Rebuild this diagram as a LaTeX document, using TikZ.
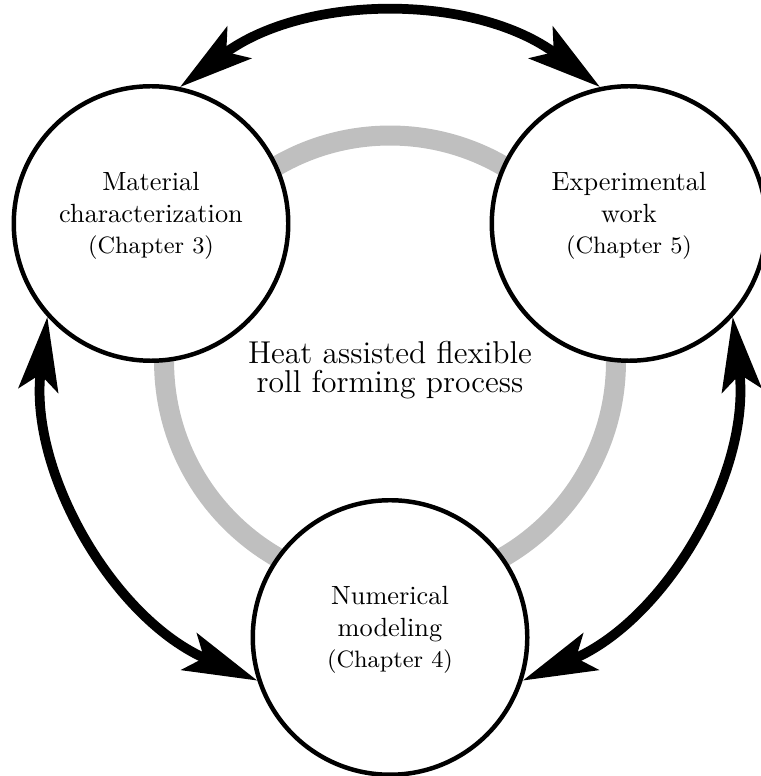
\documentclass[tikz,border=0pt]{standalone}
\usepackage{amsmath,amssymb}
\usepackage{tikz}
\usetikzlibrary{positioning, arrows.meta, calc}

\begin{document}
\begin{tikzpicture}
	\tikzset{
		topic/.style={circle, draw, fill=white, line width=1.7pt, minimum size=3.666cm, inner sep=0pt, align=center, text depth=8pt},
		link/.style={line width=3.7pt, looseness=0.95, {Stealth[length=28pt, width=15pt, inset=6pt]}-{Stealth[length=28pt, width=15pt, inset=6pt]}}
	}
	\useasboundingbox (-5.209,-5.536) rectangle (4.942,4.828);
	\draw[lightgray, line width=7.6pt] (0,0) circle (3.018);
	\node[align=center, font=\large] (proc) at (0,-0.12) {Heat assisted flexible\\[-3pt]roll forming process};
	\node[topic] (mat) at (150:3.686) {Material\\characterization\\{\small(Chapter 3)}};
	\node[topic] (exp) at (30:3.686) {Experimental\\work\\{\small(Chapter 5)}};
	\node[topic] (num) at (270:3.686) {Numerical\\modeling\\{\small(Chapter 4)}};
	\draw[link] (mat.78) to[out=37, in=143] (exp.102);
	\draw[link] (mat.222) to[out=263, in=157] (num.198);
	\draw[link] (exp.318) to[out=277, in=23] (num.342);
\end{tikzpicture}
\end{document}
